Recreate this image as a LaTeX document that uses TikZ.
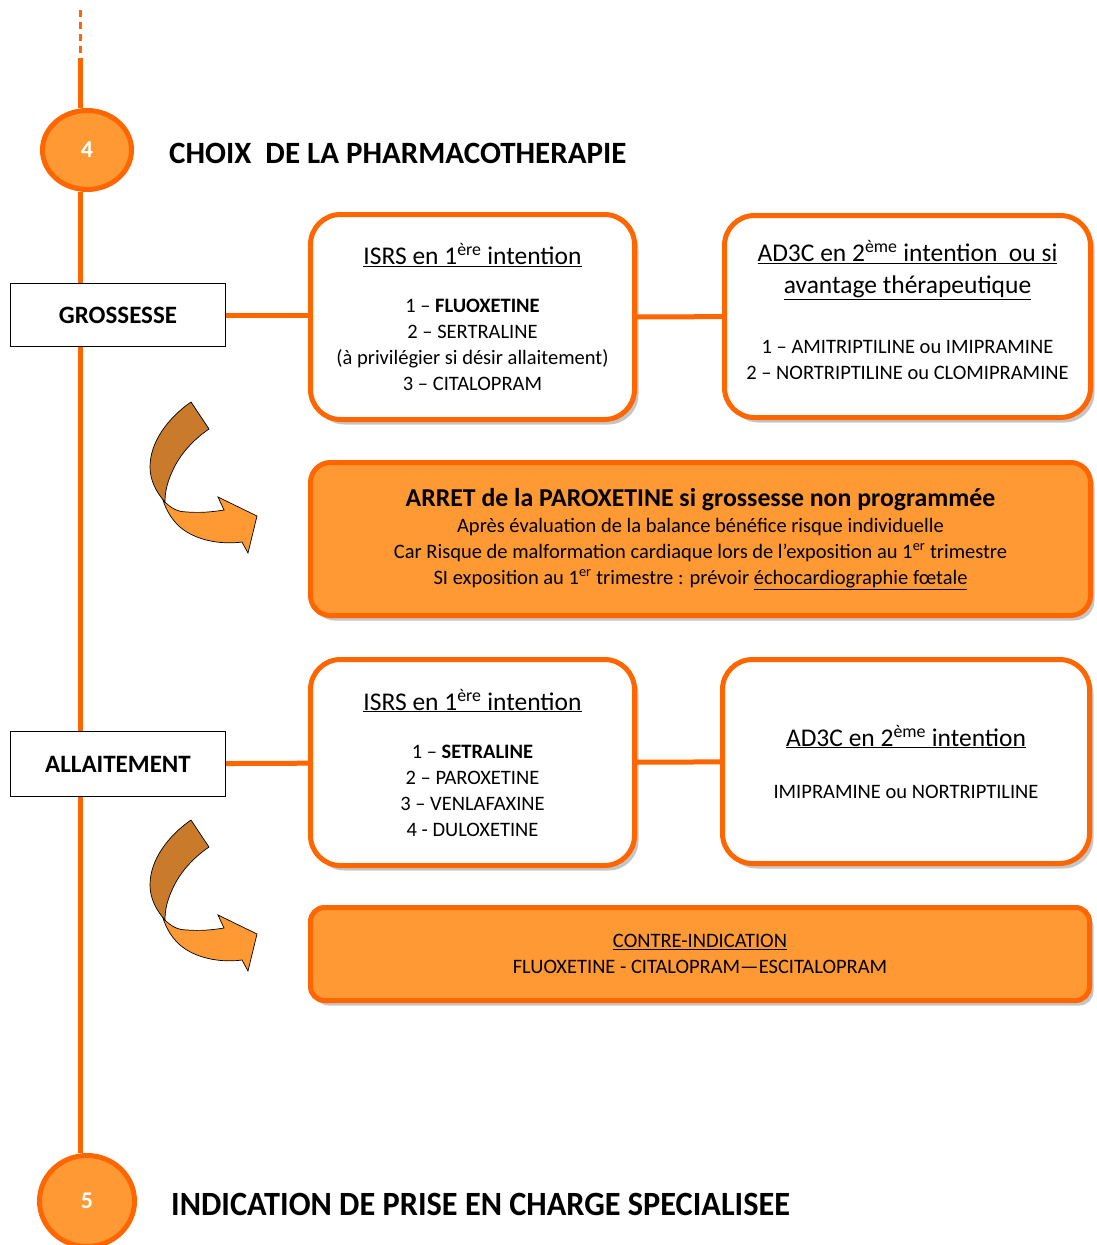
\documentclass[tikz,border=0pt]{standalone}
\usepackage{fontspec}
\setmainfont{Carlito}
\usetikzlibrary{shapes.geometric, shadows, positioning}
\definecolor{orline}{HTML}{FF6600}
\definecolor{orfill}{HTML}{FF9933}
\definecolor{orback}{HTML}{C97B2B}
\tikzstyle{whitebox}=[draw=orline, line width=5pt, fill=white, rounded corners=30pt, align=center, inner sep=0pt, font=\fontsize{20.5}{26}\selectfont, drop shadow={shadow xshift=4pt, shadow yshift=-5pt, fill=black!45}]
\tikzstyle{orangebox}=[whitebox, fill=orfill, rounded corners=20pt]
\tikzstyle{tagbox}=[draw=black, line width=1pt, fill=white, minimum width=215pt, inner sep=0pt, font=\bfseries\fontsize{25}{28}\selectfont]
\tikzstyle{stepdot}=[ellipse, draw=orline, line width=5pt, fill=orfill, text=white, minimum width=89pt, minimum height=79pt, font=\bfseries\fontsize{24}{26}\selectfont]
\tikzstyle{spine}=[draw=orline, line width=5pt]
\tikzstyle{link}=[draw=orline, line width=5pt]
\newcommand{\hdr}[1]{{\fontsize{25.5}{26}\selectfont\underline{#1}}}
\newcommand{\twistarrow}[1]{%
  \begin{scope}[shift={#1}]
    \filldraw[fill=orfill, draw=black, line width=0.7pt] (13,100) .. controls (22,110) and (30,112) .. (37,112)
      .. controls (50,113) and (62,112) .. (74,110) -- (68,97) -- (107,116) -- (98,153) -- (92,142)
      .. controls (70,145) and (45,140) .. (30,127) .. controls (22,120) and (16,110) .. (13,100) -- cycle;
    \filldraw[fill=orback, draw=black, line width=0.7pt] (41,2) -- (59,29) .. controls (40,42) and (28,58) .. (22,72)
      .. controls (16,85) and (15,95) .. (15,102) .. controls (6,92) and (0,80) .. (0,67)
      .. controls (0,42) and (18,18) .. (41,2) -- cycle;
  \end{scope}}
\begin{document}
\begin{tikzpicture}[x=1pt,y=-1pt]
  \useasboundingbox (0,0) rectangle (1097,1245);
  % timeline
  \coordinate (t0) at (80,10);
  \coordinate (t1) at (80,58);
  \node[stepdot] (c4) at (87,150) {4};
  \node[anchor=west, inner sep=0pt, font=\bfseries\fontsize{31}{36}\selectfont] (title4) at (169,153) {CHOIX\ \ DE LA PHARMACOTHERAPIE};
  \node[tagbox, minimum height=63pt] (gross) at (118,315) {GROSSESSE};
  \node[tagbox, minimum height=65pt] (allait) at (118,764) {ALLAITEMENT};
  \node[stepdot, minimum width=95pt, minimum height=91pt] (c5) at (87,1201) {5};
  \node[anchor=west, inner sep=0pt, font=\bfseries\fontsize{34}{40}\selectfont] (title5) at (171,1204) {\scalebox{0.95}[1]{INDICATION DE PRISE EN CHARGE SPECIALISEE}};
  \draw[orline, line width=3pt, dash pattern=on 7pt off 5pt] (t0) -- (t1);
  \draw[spine] (t1) -- (t1 |- c4.north);
  \draw[spine] (c4.south -| t1) -- (gross.north -| t1);
  \draw[spine] (gross.south -| t1) -- (allait.north -| t1);
  \draw[spine] (allait.south -| t1) -- (c5.north -| t1);

  % grossesse
  \node[whitebox, minimum width=324pt, minimum height=205pt] (isrsA) at (472.5,317) {%
    \hdr{ISRS en 1\textsuperscript{ère} intention}\\[22pt]
    1 – \textbf{FLUOXETINE}\\
    2 – SERTRALINE\\
    (à privilégier si désir allaitement)\\
    3 – CITALOPRAM};
  \node[whitebox, minimum width=366pt, minimum height=202pt] (adA) at (907.5,316.5) {%
    \hdr{AD3C en 2\textsuperscript{ème} intention\ \ ou si}\\[6pt]
    \hdr{avantage thérapeutique}\\[34pt]
    1 – AMITRIPTILINE ou IMIPRAMINE\\
    2 – NORTRIPTILINE ou CLOMIPRAMINE\\[-12pt]\mbox{}};
  \node[orangebox, minimum width=780pt, minimum height=153pt] (arret) at (700.5,539) {%
    {\bfseries\fontsize{25.8}{26}\selectfont ARRET de la PAROXETINE si grossesse non programmée}\\
    Après évaluation de la balance bénéfice risque individuelle\\
    Car Risque de malformation cardiaque lors de l’exposition au 1\textsuperscript{er} trimestre\\
    SI exposition au 1\textsuperscript{er} trimestre : prévoir \underline{échocardiographie fœtale}};
  \draw[link] (gross.east) -- (gross.east -| isrsA.west);
  \draw[link] (isrsA) -- (adA);
  \twistarrow{(150,400)}

  % allaitement
  \node[whitebox, minimum width=324pt, minimum height=206pt] (isrsB) at (472.5,762.5) {%
    \hdr{ISRS en 1\textsuperscript{ère} intention}\\[22pt]
    1 – \textbf{SETRALINE}\\
    2 – PAROXETINE\\
    3 – VENLAFAXINE\\
    4 - DULOXETINE};
  \node[whitebox, minimum width=367pt, minimum height=204pt] (adB) at (906,761.5) {%
    \hdr{AD3C en 2\textsuperscript{ème} intention}\\[26pt]
    IMIPRAMINE ou NORTRIPTILINE};
  \node[orangebox, rounded corners=14pt, minimum width=779pt, minimum height=93pt] (contre) at (700,954) {%
    \underline{CONTRE-INDICATION}\\
    FLUOXETINE - CITALOPRAM—ESCITALOPRAM};
  \draw[link] (allait) -- (isrsB);
  \draw[link] (isrsB) -- (adB);
  \twistarrow{(150,818)}
\end{tikzpicture}
\end{document}
